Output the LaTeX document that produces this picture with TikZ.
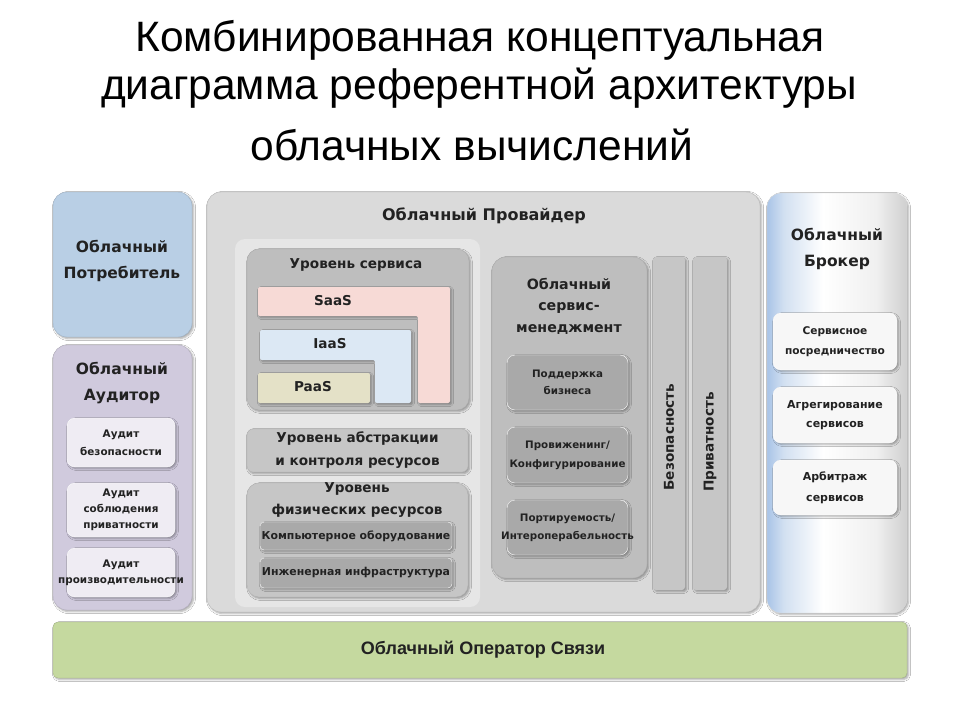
\documentclass[tikz,border=0pt]{standalone}
\usepackage{fontspec}
\setmainfont{DejaVu Sans}
\newfontfamily\titlefont{Liberation Sans}
\usetikzlibrary{fit,shadows.blur}
\definecolor{txt}{HTML}{222222}
\definecolor{consBlue}{HTML}{B9CFE5}
\definecolor{audPurple}{HTML}{D0CADD}
\definecolor{audBox}{HTML}{EFECF3}
\definecolor{provGray}{HTML}{DADADA}
\definecolor{panelGray}{HTML}{E6E6E6}
\definecolor{lvlGray}{HTML}{BEBEBE}
\definecolor{lvl2Gray}{HTML}{C6C6C6}
\definecolor{darkBox}{HTML}{A9A9A9}
\definecolor{saasPink}{HTML}{F7DAD6}
\definecolor{iaasBlue}{HTML}{DCE8F4}
\definecolor{paasBeige}{HTML}{E4E1C7}
\definecolor{brokBlue}{HTML}{A9C4E7}
\definecolor{brokMid}{HTML}{D2E0F1}
\definecolor{brokEdge}{HTML}{CFCFCF}
\definecolor{brokBox}{HTML}{F7F7F7}
\definecolor{opGreen}{HTML}{C5D99F}
\pgfdeclarehorizontalshading{brokshade}{100bp}{color(0bp)=(brokBlue); color(25bp)=(brokBlue); color(31bp)=(brokMid); color(45bp)=(white); color(64bp)=(white!94!black); color(75bp)=(brokEdge); color(100bp)=(brokEdge)}
\tikzset{
  shd/.style={blur shadow={shadow xshift=1.5pt,shadow yshift=-1.5pt,shadow blur radius=2pt,shadow opacity=35}},
  area/.style={rounded corners=14pt,inner sep=0pt,shd},
  sub/.style={rounded corners=8pt,inner sep=0pt,shd},
  lbl/.style={text=txt,align=center,inner sep=0pt},
  big/.style={lbl,font=\bfseries\fontsize{15.5}{26}\selectfont},
  mid/.style={lbl,font=\bfseries\fontsize{13.6}{22}\selectfont},
  small/.style={lbl,font=\bfseries\fontsize{10.4}{17}\selectfont},
  ttl/.style={lbl,text=black,font=\titlefont\fontsize{42.5}{48}\selectfont},
}
\begin{document}
\begin{tikzpicture}[x=1pt,y=-1pt]
\useasboundingbox[fill=white] (0,0) rectangle (960,720);
% title
\node[ttl] (t1) at (480,40) {Комбинированная концептуальная};
\node[ttl] (t2) at (479,88) {диаграмма референтной архитектуры};
\node[ttl] (t3) at (472,145) {облачных вычислений};

% consumer
\node[area,fit={(53,192)(192,337)},fill=consBlue,draw=consBlue!85!black] (cons) {};
\node[big] (consT) at (122,261) {Облачный\\Потребитель};

% auditor
\node[area,fit={(53,345)(192,610)},fill=audPurple,draw=audPurple!85!black] (aud) {};
\node[big] (audT) at (122,383) {Облачный\\Аудитор};
\node[sub,fit={(67,418)(175,467)},fill=audBox,draw=white] (a1) {};
\node[small,font=\bfseries\fontsize{10.4}{18}\selectfont] (a1t) at (a1) {Аудит\\безопасности};
\node[sub,fit={(67,483)(175,537)},fill=audBox,draw=white] (a2) {};
\node[small,font=\bfseries\fontsize{10.4}{16}\selectfont] (a2t) at (a2) {Аудит\\соблюдения\\приватности};
\node[sub,fit={(67,548)(175,597)},fill=audBox,draw=white] (a3) {};
\node[small,font=\bfseries\fontsize{10.4}{16}\selectfont] (a3t) at (a3) {Аудит\\производительности};

% provider
\node[area,fit={(207,192)(760,612)},fill=provGray,draw=provGray!85!black] (prov) {};
\node[lbl,font=\bfseries\fontsize{16}{20}\selectfont] (provT) at (484,216) {Облачный Провайдер};
\node[rounded corners=10pt,fit={(235,239)(480,607)},fill=panelGray,inner sep=0pt] (panel) {};

% service level
\node[sub,rounded corners=12pt,fit={(247,249)(469,410)},fill=lvlGray,draw=lvlGray!90!black] (svc) {};
\node[mid] (svcT) at (356,265) {Уровень сервиса};
\path[fill=saasPink,rounded corners=2pt,shd] (258,287) -- (450,287) -- (450,403) -- (418,403) -- (418,316) -- (258,316) -- cycle;
\node[mid] (saas) at (333,301) {SaaS};
\path[fill=iaasBlue,rounded corners=2pt,shd] (260,330) -- (411,330) -- (411,403) -- (375,403) -- (375,360) -- (260,360) -- cycle;
\node[mid] (iaas) at (330,344) {IaaS};
\node[rounded corners=2pt,fit={(258,373)(370,403)},fill=paasBeige,inner sep=0pt,shd] (paasB) {};
\node[mid] (paas) at (313,387) {PaaS};

% abstraction
\node[sub,rounded corners=6pt,fit={(247,429)(468,472)},fill=lvl2Gray,draw=lvl2Gray!90!black] (abs) {};
\node[mid,font=\bfseries\fontsize{13.6}{23}\selectfont] (absT) at (abs) {Уровень абстракции\\и контроля ресурсов};

% physical
\node[sub,rounded corners=12pt,fit={(247,483)(468,597)},fill=lvl2Gray,draw=lvl2Gray!90!black] (phys) {};
\node[mid,font=\bfseries\fontsize{13.6}{22}\selectfont] (physT) at (357,500) {Уровень\\физических ресурсов};
\node[sub,rounded corners=4pt,fit={(260,522)(452,550)},fill=darkBox,draw=white] (comp) {};
\node[small,font=\bfseries\fontsize{10.9}{12}\selectfont] (compT) at (comp) {Компьютерное оборудование};
\node[sub,rounded corners=4pt,fit={(260,558)(452,588)},fill=darkBox,draw=white] (eng) {};
\node[small,font=\bfseries\fontsize{10.9}{12}\selectfont] (engT) at (eng) {Инженерная инфраструктура};

% management
\node[sub,rounded corners=14pt,fit={(492,257)(647,578)},fill=lvlGray,draw=lvlGray!90!black] (mgmt) {};
\node[mid,font=\bfseries\fontsize{14.2}{21.5}\selectfont] (mgmtT) at (569,306) {Облачный\\сервис-\\менеджмент};
\node[sub,fit={(507,355)(628,410)},fill=darkBox,draw=white] (m1) {};
\node[small,font=\bfseries\fontsize{10.3}{17}\selectfont] (m1t) at (m1) {Поддержка\\бизнеса};
\node[sub,fit={(507,427)(628,483)},fill=darkBox,draw=white] (m2) {};
\node[small,font=\bfseries\fontsize{10.3}{19}\selectfont] (m2t) at (m2) {Провиженинг/\\Конфигурирование};
\node[sub,fit={(507,500)(628,555)},fill=darkBox,draw=white] (m3) {};
\node[small,font=\bfseries\fontsize{10.3}{18}\selectfont] (m3t) at (m3) {Портируемость/\\Интероперабельность};

% vertical bars
\node[rounded corners=3pt,fit={(653,257)(685,590)},fill=lvl2Gray,inner sep=0pt,shd] (sec) {};
\node[mid,rotate=90] (secT) at (669,437) {Безопасность};
\node[rounded corners=3pt,fit={(693,257)(727,590)},fill=lvl2Gray,inner sep=0pt,shd] (priv) {};
\node[mid,rotate=90] (privT) at (710,442) {Приватность};

% broker
\node[area,fit={(767,193)(907,613)},shading=brokshade,draw=black!15] (brok) {};
\node[big] (brokT) at (837,249) {Облачный\\Брокер};
\node[sub,fit={(773,313)(897,370)},fill=brokBox,draw=white] (b1) {};
\node[small,font=\bfseries\fontsize{10.6}{20}\selectfont] (b1t) at (b1) {Сервисное\\посредничество};
\node[sub,fit={(773,387)(897,443)},fill=brokBox,draw=white] (b2) {};
\node[small,font=\bfseries\fontsize{11}{19}\selectfont] (b2t) at (b2) {Агрегирование\\сервисов};
\node[sub,fit={(773,460)(897,515)},fill=brokBox,draw=white] (b3) {};
\node[small,font=\bfseries\fontsize{11}{21}\selectfont] (b3t) at (b3) {Арбитраж\\сервисов};

% operator
\node[rounded corners=5pt,fit={(53,622)(907,678)},fill=opGreen,draw=opGreen!85!black,inner sep=0pt,shd] (op) {};
\node[lbl,font=\titlefont\bfseries\fontsize{18}{20}\selectfont] (opT) at (483,650) {Облачный Оператор Связи};
\end{tikzpicture}
\end{document}
